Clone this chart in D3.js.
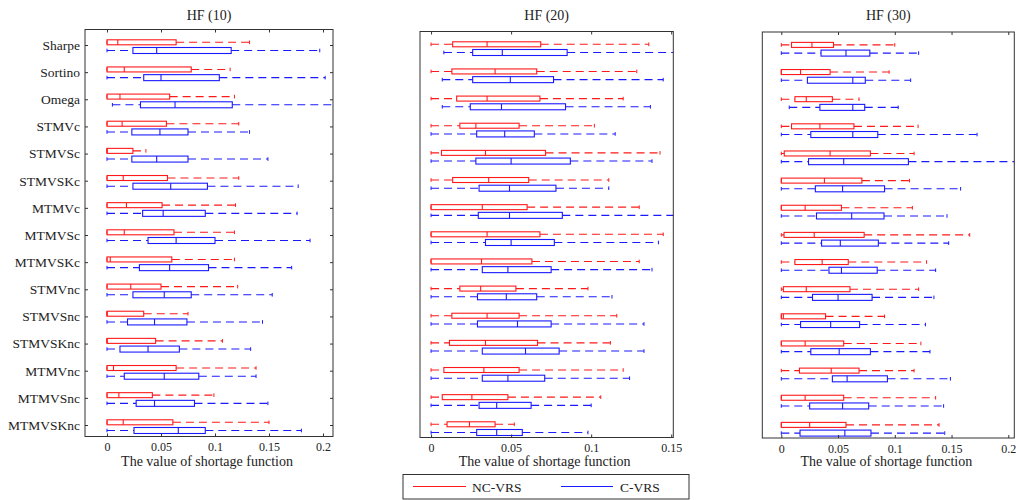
<!DOCTYPE html>
<html>
<head>
<meta charset="utf-8">
<script src="https://cdn.jsdelivr.net/npm/d3@7"></script>
<style>
  html, body { margin: 0; padding: 0; background: #fff; }
  svg { display: block; }
  svg text { font-family: "Liberation Serif", "Times New Roman", serif; }
</style>
</head>
<body>
<svg id="chart" width="1016" height="500"></svg>
<script>
// ---------- data ----------
const categories = ["Sharpe","Sortino","Omega","STMVc","STMVSc","STMVSKc","MTMVc","MTMVSc","MTMVSKc",
  "STMVnc","STMVSnc","STMVSKnc","MTMVnc","MTMVSnc","MTMVSKnc"];
const seriesNames = ["NC-VRS", "C-VRS"];
const panelTitles = ["HF (10)", "HF (20)", "HF (30)"];
const xLabel = "The value of shortage function";
const ticks10 = [0, 0.05, 0.1, 0.15, 0.2];
const ticks20 = [0, 0.05, 0.1, 0.15];
const ticks30 = [0, 0.05, 0.1, 0.15, 0.2];

// each row: [lower whisker, Q1, median, Q3, upper whisker]
const hf10_nc = [
  [0,0,0.010,0.064,0.132],[0,0,0.016,0.078,0.114],[0,0,0.012,0.058,0.118],[0,0,0.014,0.055,0.122],
  [0,0,0,0.024,0.036],[0,0,0.015,0.056,0.122],[0,0,0.018,0.051,0.119],[0,0,0.016,0.062,0.118],
  [0,0,0.003,0.060,0.118],[0,0,0.022,0.050,0.121],[0,0,0,0.034,0.075],[0,0,0,0.045,0.107],
  [0,0,0.006,0.064,0.138],[0,0,0.011,0.042,0.099],[0,0,0.015,0.061,0.150]];
const hf10_c = [
  [0,0.024,0.046,0.115,0.197],[0,0.034,0.050,0.104,0.202],[0.005,0.031,0.063,0.116,0.215],[0,0.023,0.049,0.075,0.132],
  [0,0.023,0.046,0.075,0.149],[0,0.024,0.059,0.093,0.177],[0,0.033,0.052,0.091,0.176],[0,0.038,0.064,0.100,0.188],
  [0,0.030,0.058,0.094,0.171],[0,0.024,0.053,0.078,0.153],[0,0.019,0.044,0.074,0.144],[0,0.012,0.038,0.067,0.133],
  [0,0.016,0.053,0.085,0.138],[0,0.027,0.044,0.081,0.149],[0,0.025,0.066,0.091,0.180]];
const hf20_nc = [
  [0,0.0135,0.035,0.0685,0.136],[0,0.013,0.040,0.066,0.1285],[0,0.016,0.035,0.068,0.120],[0,0.018,0.028,0.055,0.102],
  [0,0.0065,0.034,0.0715,0.143],[0,0.0135,0.036,0.061,0.111],[0,0,0.032,0.060,0.130],[0,0,0.035,0.068,0.145],
  [0,0,0.0315,0.063,0.130],[0,0.018,0.031,0.053,0.098],[0,0.013,0.035,0.055,0.116],[0,0.0115,0.034,0.0665,0.112],
  [0,0.008,0.033,0.055,0.120],[0,0.007,0.0255,0.048,0.106],[0,0.010,0.024,0.040,0.052]];
const hf20_c = [
  [0.008,0.026,0.0445,0.085,0.152],[0.007,0.026,0.0495,0.0765,0.145],[0.007,0.0245,0.044,0.084,0.137],[0,0.0285,0.046,0.0645,0.115],
  [0,0.028,0.050,0.087,0.138],[0,0.030,0.049,0.078,0.111],[0,0.0295,0.049,0.082,0.155],[0,0.034,0.050,0.077,0.142],
  [0,0.032,0.048,0.075,0.138],[0,0.029,0.047,0.066,0.113],[0,0.029,0.054,0.075,0.133],[0,0.032,0.059,0.080,0.133],
  [0,0.032,0.048,0.071,0.124],[0,0.030,0.041,0.0625,0.100],[0,0.0285,0.041,0.057,0.098]];
const hf30_nc = [
  [0,0.009,0.027,0.046,0.100],[0,0,0.017,0.043,0.095],[0,0.012,0.022,0.045,0.0685],[0,0.009,0.034,0.064,0.1205],
  [0,0.0026,0.043,0.0785,0.117],[0,0,0.038,0.071,0.113],[0,0,0.021,0.053,0.1155],[0,0.0024,0.029,0.073,0.166],
  [0,0.012,0.036,0.059,0.128],[0,0.0018,0.022,0.0605,0.121],[0,0,0.0018,0.039,0.091],[0,0,0.021,0.055,0.123],
  [0,0.016,0.044,0.0685,0.117],[0,0,0.021,0.055,0.136],[0,0,0.025,0.057,0.139]];
const hf30_c = [
  [0,0.035,0.057,0.078,0.121],[0,0.023,0.063,0.074,0.114],[0.007,0.034,0.063,0.0735,0.103],[0,0.026,0.063,0.085,0.1725],
  [0,0.024,0.055,0.112,0.215],[0,0.030,0.054,0.091,0.158],[0,0.031,0.062,0.0905,0.146],[0,0.0355,0.052,0.0855,0.1475],
  [0,0.042,0.053,0.0845,0.136],[0,0.0275,0.050,0.080,0.1345],[0,0.017,0.0435,0.069,0.127],[0,0.026,0.051,0.0785,0.131],
  [0,0.045,0.058,0.0935,0.149],[0,0.025,0.054,0.077,0.143],[0,0.0165,0.056,0.079,0.144]];

// ---------- layout ----------
const colors = ["#ff1a1a", "#1a1aff"];
const panels = [
  {title: panelTitles[0], nc: hf10_nc, c: hf10_c, ticks: ticks10, dom: [-0.02037, 0.20926], left: 85,  right: 333,    top: 29.5, bottom: 436.5, dy: 0,   yAxis: true},
  {title: panelTitles[1], nc: hf20_nc, c: hf20_c, ticks: ticks20, dom: [-0.0069, 0.1513],   left: 420, right: 673.3,  top: 31.5, bottom: 437.5, dy: 2,   yAxis: false},
  {title: panelTitles[2], nc: hf30_nc, c: hf30_c, ticks: ticks30, dom: [-0.01674, 0.2053],  left: 762.3, right: 1014.3, top: 32, bottom: 438,   dy: 2.6, yAxis: false}
];
const offsets = [-2.7, 5.5];
const boxH = [5, 6];
const fmt = d => d === 0 ? "0" : String(+d.toFixed(2));

const svg = d3.select("#chart");

panels.forEach((p, pi) => {
  const x = d3.scaleLinear().domain(p.dom).range([p.left, p.right]);
  const y = d3.scalePoint().domain(categories).range([45 + p.dy, 425 + p.dy]);
  const g = svg.append("g");

  const clipId = "clip" + pi;
  svg.append("clipPath").attr("id", clipId).append("rect")
    .attr("x", p.left).attr("y", p.top).attr("width", p.right - p.left).attr("height", p.bottom - p.top);

  const plot = g.append("g").attr("clip-path", `url(#${clipId})`);
  [p.nc, p.c].forEach((data, si) => {
    const col = colors[si];
    const h = boxH[si];
    const grp = plot.selectAll(null).data(data.map((d, i) => ({d, cat: categories[i]}))).enter().append("g");
    const cy = r => y(r.cat) + offsets[si];
    // whiskers
    grp.append("line").attr("x1", r => x(r.d[3])).attr("x2", r => x(r.d[4]))
      .attr("y1", cy).attr("y2", cy).attr("stroke", col).attr("stroke-width", 1.1).attr("stroke-dasharray", "8,5");
    grp.filter(r => r.d[1] > r.d[0]).append("line").attr("x1", r => x(r.d[0])).attr("x2", r => x(r.d[1]))
      .attr("y1", cy).attr("y2", cy).attr("stroke", col).attr("stroke-width", 1.1).attr("stroke-dasharray", "8,5");
    // caps
    [0, 4].forEach(k => {
      grp.append("line").attr("x1", r => x(r.d[k])).attr("x2", r => x(r.d[k]))
        .attr("y1", r => cy(r) - 1.8).attr("y2", r => cy(r) + 1.8).attr("stroke", col).attr("stroke-width", 1);
    });
    // box
    grp.append("rect").attr("x", r => x(r.d[1])).attr("width", r => Math.max(0, x(r.d[3]) - x(r.d[1])))
      .attr("y", r => cy(r) - h / 2).attr("height", h)
      .attr("fill", "none").attr("stroke", col).attr("stroke-width", 1.1);
    // median
    grp.append("line").attr("x1", r => x(r.d[2])).attr("x2", r => x(r.d[2]))
      .attr("y1", r => cy(r) - h / 2).attr("y2", r => cy(r) + h / 2).attr("stroke", col).attr("stroke-width", 1.1);
  });

  // axes (inward ticks)
  const axB = g.append("g").attr("transform", `translate(0,${p.bottom})`)
    .call(d3.axisBottom(x).tickValues(p.ticks).tickFormat(fmt).tickSizeInner(-3).tickSizeOuter(0).tickPadding(6));
  const axT = g.append("g").attr("transform", `translate(0,${p.top})`)
    .call(d3.axisTop(x).tickValues(p.ticks).tickFormat("").tickSizeInner(-3).tickSizeOuter(0));
  [axB, axT].forEach(a => {
    a.attr("font-family", null);
    a.select(".domain").remove();
    a.selectAll("line").attr("stroke", "#333");
    a.selectAll("text").attr("font-size", 12).attr("fill", "#222");
  });

  if (p.yAxis) {
    const axL = g.append("g").attr("transform", `translate(${p.left},0)`)
      .call(d3.axisLeft(y).tickSizeInner(-3).tickSizeOuter(0).tickPadding(5));
    const axR = g.append("g").attr("transform", `translate(${p.right},0)`)
      .call(d3.axisRight(y).tickFormat("").tickSizeInner(-3).tickSizeOuter(0));
    [axL, axR].forEach(a => {
      a.attr("font-family", null);
      a.select(".domain").remove();
      a.selectAll("line").attr("stroke", "#333");
      a.selectAll("text").attr("font-size", 13.5).attr("fill", "#222");
    });
  }

  // frame
  g.append("rect").attr("x", p.left).attr("y", p.top).attr("width", p.right - p.left).attr("height", p.bottom - p.top)
    .attr("fill", "none").attr("stroke", "#333").attr("stroke-width", 1);

  // title & x label
  g.append("text").attr("x", (p.left + p.right) / 2).attr("y", 20).attr("text-anchor", "middle")
    .attr("font-size", 14).attr("fill", "#222").text(p.title);
  g.append("text").attr("y", 466)
    .attr("x", (p.left + p.right) / 2 - 2).attr("text-anchor", "middle")
    .attr("font-size", 14).attr("fill", "#222").text(xLabel);
});

// legend
const lg = svg.append("g");
lg.append("rect").attr("x", 403).attr("y", 474.5).attr("width", 286).attr("height", 24.5)
  .attr("fill", "#fff").attr("stroke", "#333").attr("stroke-width", 1);
const legendItems = [{x1: 413, x2: 466, tx: 472}, {x1: 561, x2: 613, tx: 620}];
legendItems.forEach((it, i) => {
  lg.append("line").attr("x1", it.x1).attr("x2", it.x2).attr("y1", 486.5).attr("y2", 486.5)
    .attr("stroke", colors[i]).attr("stroke-width", 1.2);
  lg.append("text").attr("x", it.tx).attr("y", 491.5).attr("font-size", 13.5).attr("fill", "#222").text(seriesNames[i]);
});
</script>
</body>
</html>
